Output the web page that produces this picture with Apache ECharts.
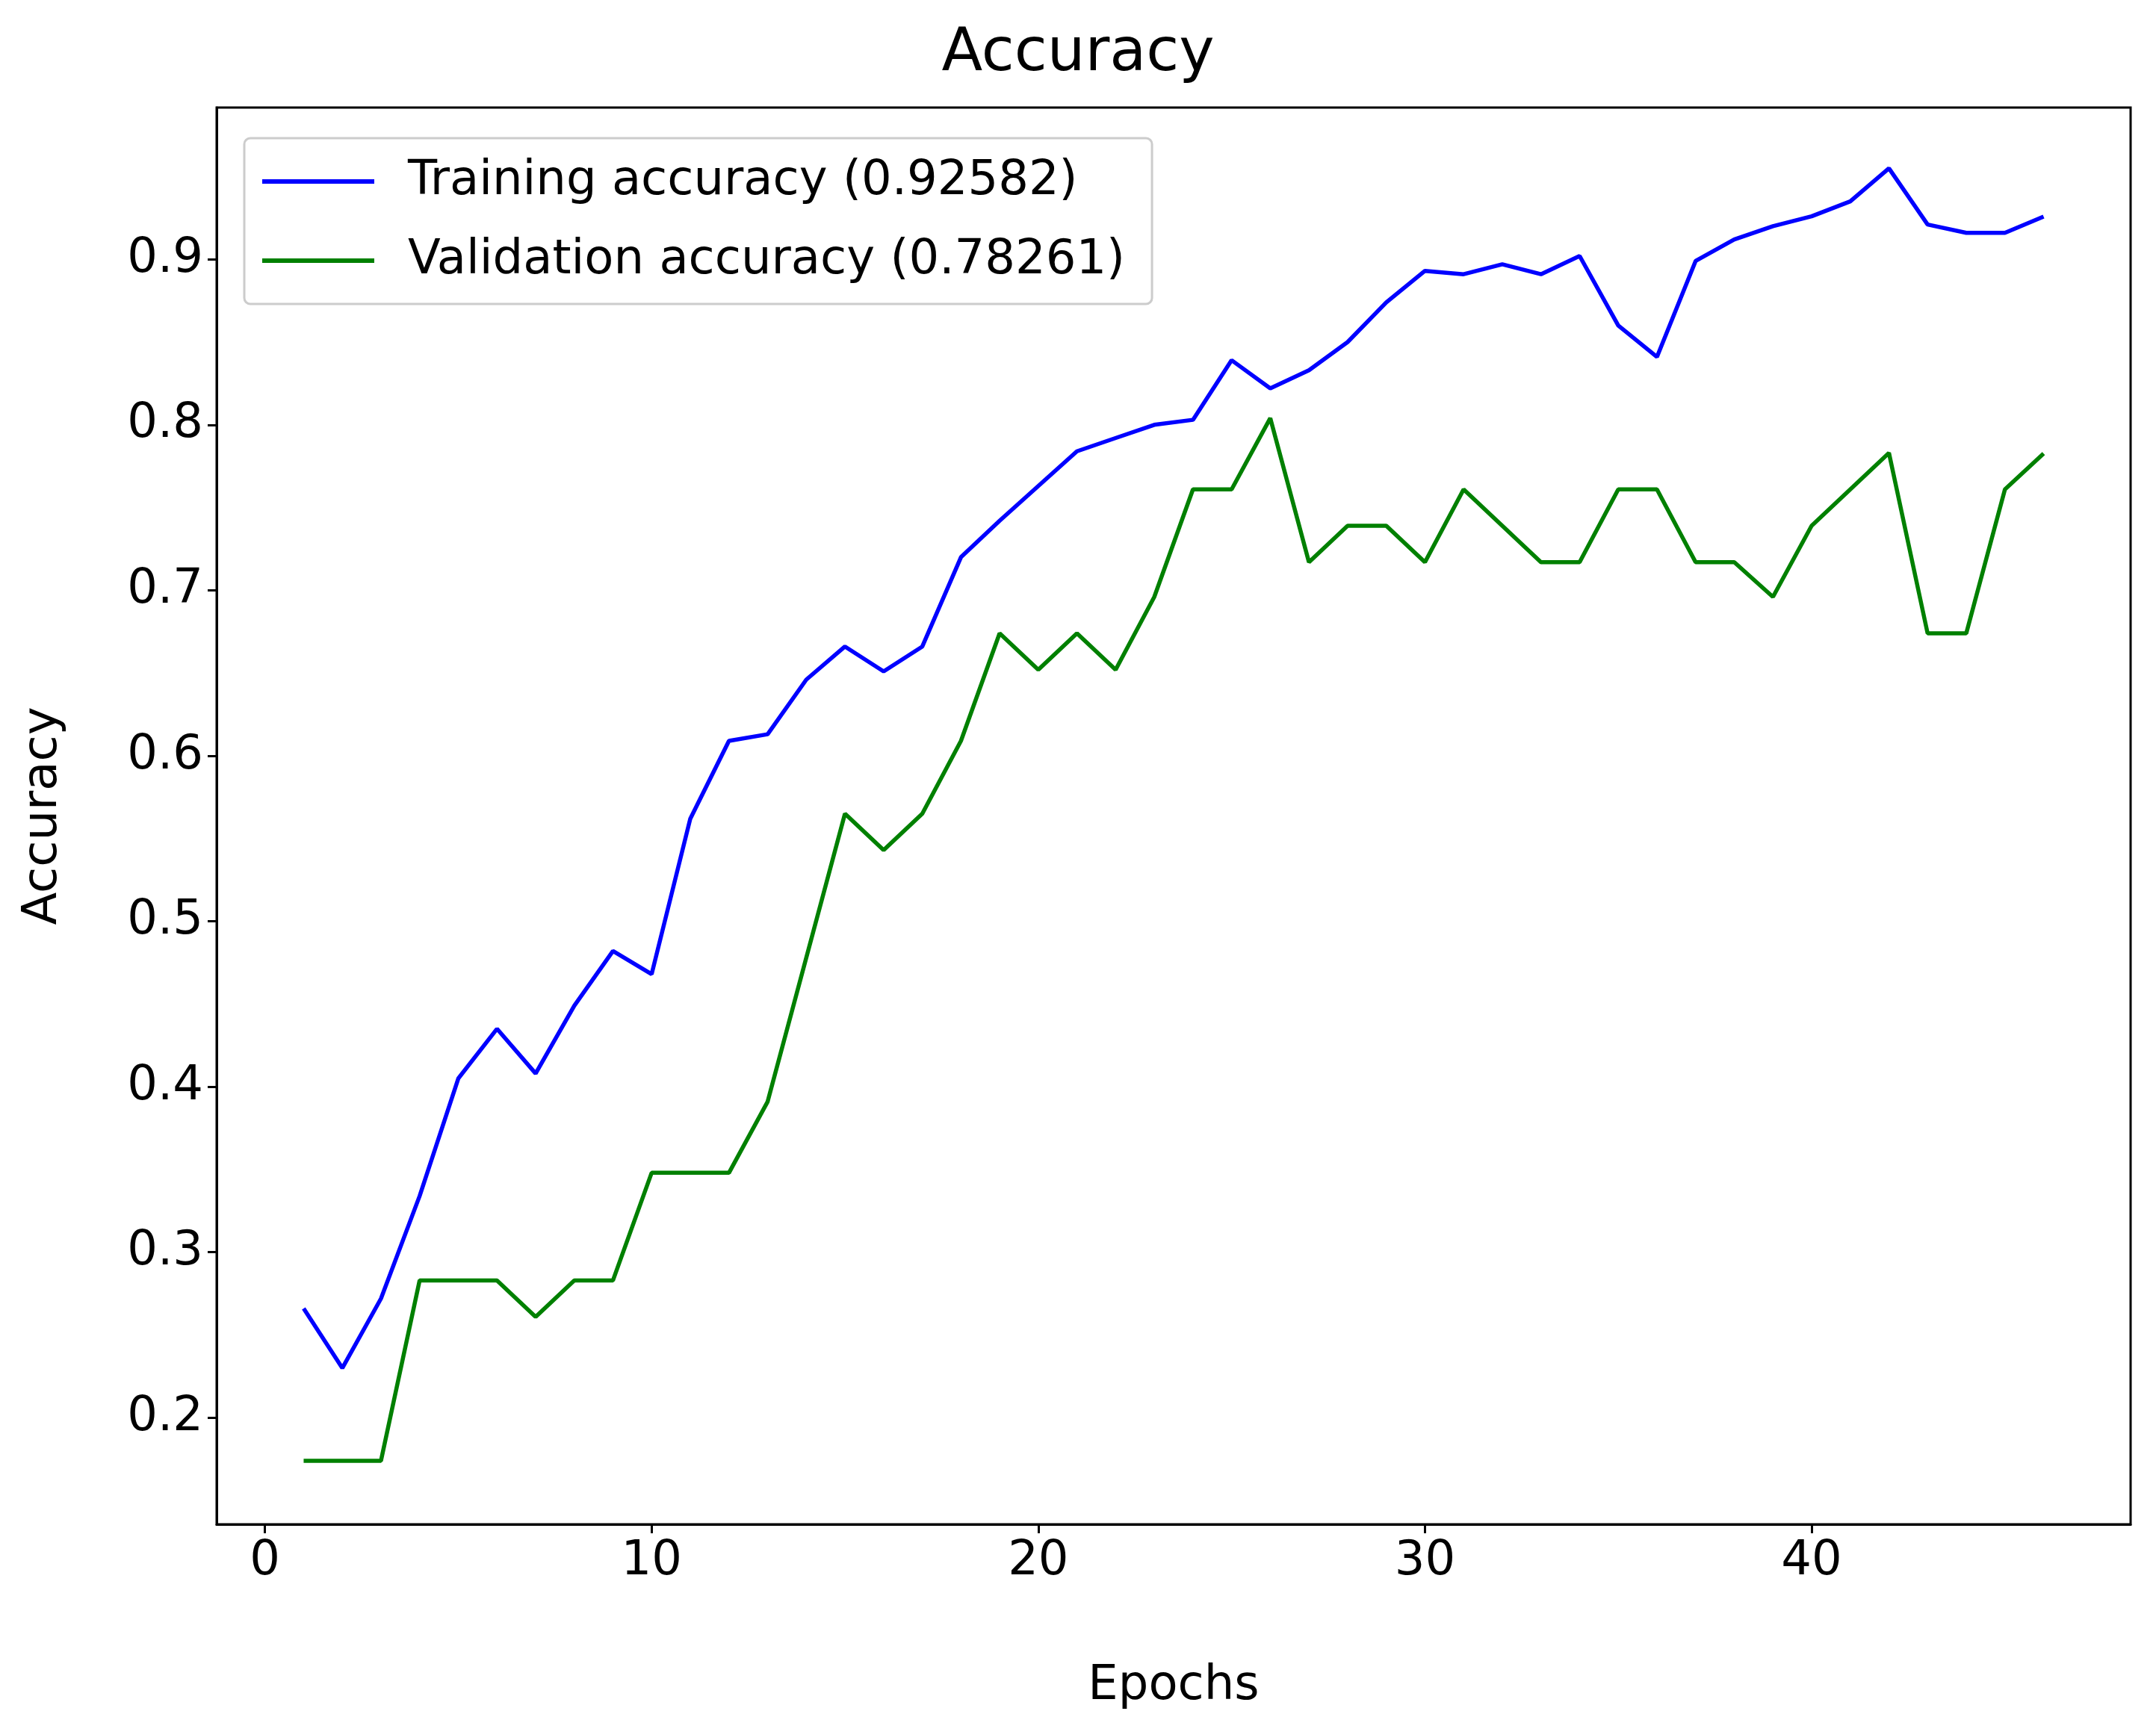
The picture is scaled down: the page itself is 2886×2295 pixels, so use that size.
<!DOCTYPE html>
<html><head><meta charset="utf-8">
<script src="https://cdn.jsdelivr.net/npm/echarts@6/dist/echarts.min.js"></script>
<style>html,body{margin:0;padding:0;background:#fff}#c{width:2886px;height:2295px}</style>
</head><body><div id="c"></div>
<script>
const epochs = Array.from({length:46},(_,i)=>i+1);
const training = [0.266,0.230,0.272,0.334,0.405,0.435,0.408,0.449,0.482,0.468,0.562,0.609,0.613,0.646,0.666,0.651,0.666,0.720,0.742,0.763,0.784,0.792,0.800,0.803,0.839,0.822,0.833,0.850,0.874,0.893,0.891,0.897,0.891,0.902,0.860,0.841,0.899,0.912,0.920,0.926,0.935,0.955,0.921,0.916,0.916,0.92582];
const validation = [0.174,0.174,0.174,0.283,0.283,0.283,0.261,0.283,0.283,0.348,0.348,0.348,0.391,0.478,0.565,0.543,0.565,0.609,0.674,0.652,0.674,0.652,0.696,0.761,0.761,0.804,0.717,0.739,0.739,0.717,0.761,0.739,0.717,0.717,0.761,0.761,0.717,0.717,0.696,0.739,0.761,0.783,0.674,0.674,0.761,0.78261];
const xTicks = [0,10,20,30,40];
const yTicks = [0.2,0.3,0.4,0.5,0.6,0.7,0.8,0.9];
const F = 'DejaVu Sans';
const chart = echarts.init(document.getElementById('c'));
const axisCommon = {
  axisLine:{show:true,onZero:false,lineStyle:{color:'#000',width:3}},
  axisTick:{show:true,inside:false,length:12,lineStyle:{color:'#000',width:3}},
  splitLine:{show:false},
  axisLabel:{color:'#000',fontFamily:F,fontSize:64,margin:18},
  nameTextStyle:{color:'#000',fontFamily:F,fontSize:64}
};
chart.setOption({
  animation:false,
  title:{text:'Accuracy',left:'center',top:28,textStyle:{fontFamily:F,fontSize:80,fontWeight:'normal',color:'#000'}},
  grid:{left:290,right:34,top:144,bottom:240,show:true,borderColor:'#000',borderWidth:3,backgroundColor:'transparent'},
  legend:{left:327,top:185,orient:'vertical',itemWidth:150,itemHeight:6,itemGap:42,
    padding:[26,36,26,24],borderColor:'#ccc',borderWidth:3,borderRadius:8,backgroundColor:'rgba(255,255,255,0.8)',
    textStyle:{fontFamily:F,fontSize:64,color:'#000',padding:[0,0,0,40]},
    data:[{name:'Training accuracy (0.92582)',icon:'rect'},{name:'Validation accuracy (0.78261)',icon:'rect'}]},
  xAxis:Object.assign({},axisCommon,{type:'value',min:-1.25,max:48.25,name:'Epochs',nameLocation:'middle',nameGap:185,
    axisLabel:Object.assign({},axisCommon.axisLabel,{customValues:xTicks}),
    axisTick:Object.assign({},axisCommon.axisTick,{customValues:xTicks})}),
  yAxis:Object.assign({},axisCommon,{type:'value',min:0.1356,max:0.9917,name:'Accuracy',nameLocation:'middle',nameGap:200,
    axisLabel:Object.assign({},axisCommon.axisLabel,{customValues:yTicks,formatter:v=>v.toFixed(1)}),
    axisTick:Object.assign({},axisCommon.axisTick,{customValues:yTicks})}),
  series:[
    {name:'Training accuracy (0.92582)',type:'line',showSymbol:false,color:'#0000ff',lineStyle:{width:5.5,color:'#0000ff'},data:epochs.map((e,i)=>[e,training[i]])},
    {name:'Validation accuracy (0.78261)',type:'line',showSymbol:false,color:'#008000',lineStyle:{width:5.5,color:'#008000'},data:epochs.map((e,i)=>[e,validation[i]])}
  ]
});
</script></body></html>
